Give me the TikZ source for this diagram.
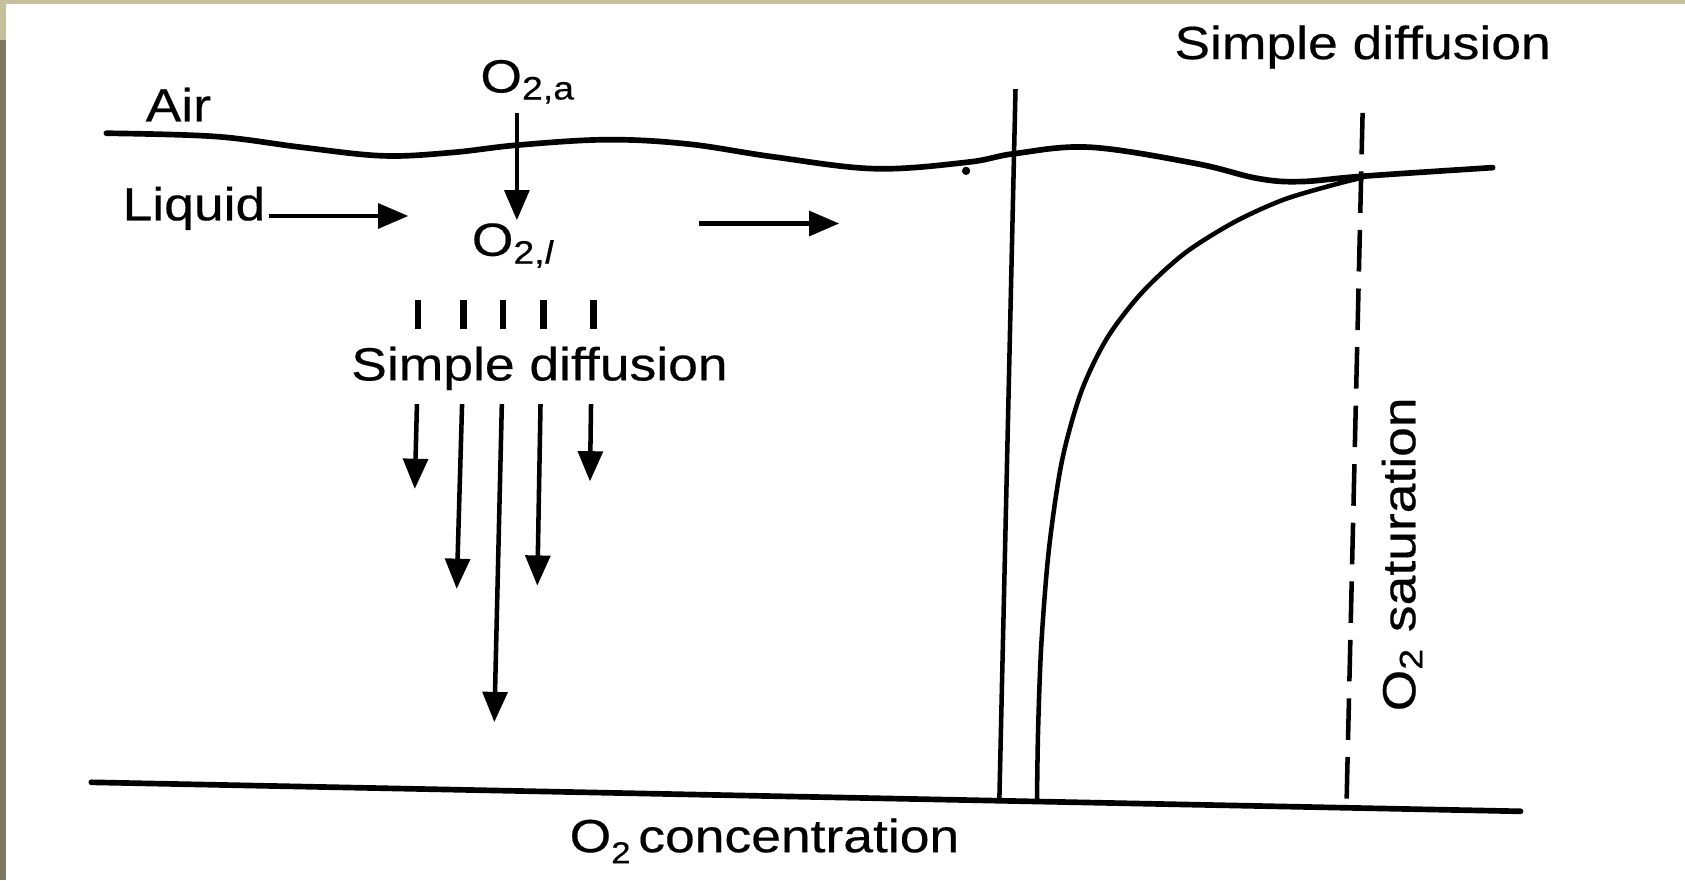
\documentclass[tikz,border=0pt]{standalone}
\usepackage{fontspec}
\setmainfont{Liberation Sans}[FakeStretch=1.15, FakeBold=0.4]
\usetikzlibrary{arrows.meta,positioning}
\definecolor{frametop}{RGB}{198,191,156}
\definecolor{frameside}{RGB}{126,121,99}

\begin{document}
\begin{tikzpicture}[
    x=0.01cm, y=-0.01cm,
    line width=1.2pt,
    txt/.style={inner sep=0pt, font=\fontsize{12.3}{14}\selectfont},
    flow/.style={-{Triangle[length=8pt,width=6.5pt]}},
    surface/.style={line width=1.5pt, line cap=round},
    tick/.style={line width=1.8pt},
    saturation/.style={dash pattern=on 11pt off 4.5pt}
  ]
  \useasboundingbox (0,0) rectangle (1568,819);
  \fill[white] (0,0) rectangle (1568,819);
  \fill[frametop] (0,0) rectangle (1568,3.7);
  \fill[frametop] (0,0) rectangle (5.3,37);
  \fill[frameside] (0,37) rectangle (5.3,819);
  % labels
  \node[txt, anchor=base] (air) at (166,113) {Air};
  \node[txt, anchor=base west] (o2a) at (445,86) {O\textsubscript{2,a}};
  \node[txt, anchor=base west] (liquid) at (112,205) {Liquid};
  \node[txt, anchor=base west] (o2l) at (437,238) {O\textsubscript{2,\textit{l}}};
  \node[txt, anchor=base] (diff) at (502,354) {Simple diffusion};
  \node[txt, anchor=base] (diffr) at (1268,55) {Simple diffusion};
  \node[txt, anchor=base west] (conc) at (528,793) {O\raisebox{-0.45ex}{\footnotesize 2}\,concentration};
  \node[txt, anchor=base west, rotate=90] (sat) at (1317,664) {O\textsubscript{2} saturation};
  % air/liquid surface
  \draw[surface] plot[smooth, tension=0.6] coordinates {(99,124) (200,127) (280,137) (356,145)
    (420,142) (482,135) (565,130) (640,134) (720,146) (814,157) (900,151) (944,143) (1014,137)
    (1112,152) (1170,166) (1210,169) (1268,164) (1389,156)};
  \fill (899,159) circle (1.1pt);
  % oxygen transfer
  \coordinate (o2in) at (481,105);
  \coordinate (o2out) at (481,205);
  \draw[flow] (o2in) -- (o2out);
  \coordinate (liqa) at (250,201);
  \coordinate (liqb) at (380,201);
  \draw[flow] (liqa) -- (liqb);
  \coordinate (liqc) at (650,208);
  \coordinate (liqd) at (781,208);
  \draw[flow] (liqc) -- (liqd);
  % diffusion ticks and arrows
  \draw[tick] (389,279) -- (389,306);
  \draw[tick] (431,279) -- (431,306);
  \draw[tick] (468,279) -- (468,306);
  \draw[tick] (506,279) -- (506,306);
  \draw[tick] (552,279) -- (552,306);
  \coordinate (d1a) at (388,376); \coordinate (d1b) at (386,455);
  \coordinate (d2a) at (430,376); \coordinate (d2b) at (425,548);
  \coordinate (d3a) at (467,376); \coordinate (d3b) at (460,672);
  \coordinate (d4a) at (503,376); \coordinate (d4b) at (500,545);
  \coordinate (d5a) at (550,376); \coordinate (d5b) at (549,448);
  \draw[flow] (d1a) -- (d1b);
  \draw[flow] (d2a) -- (d2b);
  \draw[flow] (d3a) -- (d3b);
  \draw[flow] (d4a) -- (d4b);
  \draw[flow] (d5a) -- (d5b);
  % concentration profile
  \coordinate (base1) at (85,728);
  \coordinate (base2) at (1415,755);
  \draw[surface] (base1) -- (base2);
  \coordinate (zero1) at (945,83);
  \coordinate (zero2) at (930,743);
  \draw (zero1) -- (zero2);
  \coordinate (sat1) at (1268,105);
  \coordinate (sat2) at (1253,750);
  \draw[saturation] (sat1) -- (sat2);
  \draw plot[smooth, tension=0.5] coordinates {(965,745) (966,680) (969,600) (976,512)
    (988,430) (1006,365) (1030,315) (1062,273) (1102,236) (1148,207) (1194,186) (1241,172)
    (1269,165)};
\end{tikzpicture}
\end{document}
